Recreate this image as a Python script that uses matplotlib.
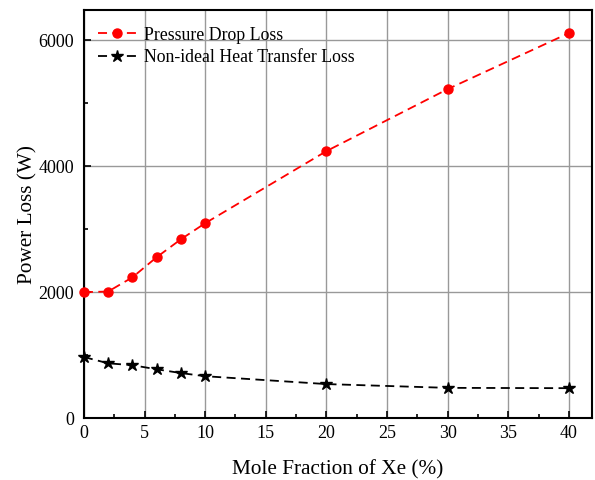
import numpy as np
from matplotlib import pyplot as plt
from matplotlib.ticker import MultipleLocator

# Data
xe_fraction = [0, 2, 4, 6, 8, 10, 20, 30, 40]
pressure_loss = [2000, 2010, 2235, 2555, 2840, 3095, 4240, 5225, 6115]
heat_loss = [970, 870, 840, 775, 715, 665, 540, 480, 475]

plt.rcParams['font.family'] = ['Liberation Serif', 'DejaVu Serif']

fig = plt.figure(figsize=(5.95, 4.8), dpi=100)
ax = fig.add_axes([0.141, 0.129, 0.854, 0.85])

ax.plot(xe_fraction, pressure_loss, color='red', linestyle=(0, (5, 3)),
        linewidth=1.3, marker='o', markersize=6.5, label='Pressure Drop Loss',
        clip_on=False, zorder=3)
ax.plot(xe_fraction, heat_loss, color='black', linestyle=(0, (5, 3)),
        linewidth=1.3, marker='*', markersize=9, label='Non-ideal Heat Transfer Loss',
        clip_on=False, zorder=3)

ax.set_xlim(0, 41.9)
ax.set_ylim(0, 6480)
ax.xaxis.set_major_locator(MultipleLocator(5))
ax.xaxis.set_minor_locator(MultipleLocator(2.5))
ax.yaxis.set_major_locator(MultipleLocator(2000))
ax.yaxis.set_minor_locator(MultipleLocator(1000))
ax.grid(True, which='major', color='#999999', linewidth=1.0)
ax.set_axisbelow(True)

ax.tick_params(which='both', direction='in', labelsize=13, width=1.2)
ax.tick_params(which='major', length=5)
ax.tick_params(which='minor', length=3)
ax.tick_params(axis='y', pad=7)
ax.tick_params(axis='x', pad=5)
for s in ax.spines.values():
    s.set_linewidth(1.5)

ax.set_xlabel('Mole Fraction of Xe (%)', fontsize=15.3, labelpad=13)
ax.set_ylabel('Power Loss (W)', fontsize=15.3, labelpad=1)

ax.legend(loc='upper left', bbox_to_anchor=(0.003, 0.99), frameon=False,
          fontsize=12.8, handlelength=2.2, handletextpad=0.4,
          borderaxespad=0.3, labelspacing=0.3)

fig.savefig('out.png', dpi=100)
